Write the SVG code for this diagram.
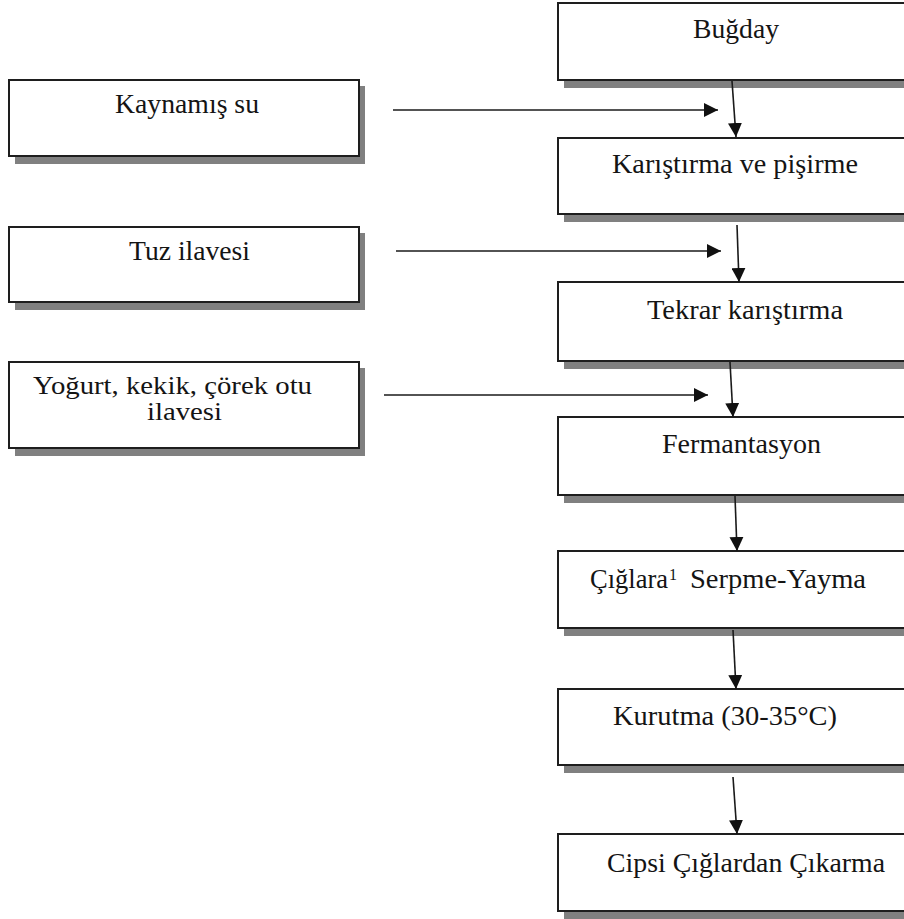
<svg xmlns="http://www.w3.org/2000/svg" width="904" height="919" viewBox="0 0 904 919">
  <style>
    .shadow { fill: #808080; }
    .box { fill: #ffffff; stroke: #1e1e1e; stroke-width: 2; }
    .lbl { font-family: "Liberation Serif", "Times New Roman", serif; font-size: 27px; fill: #141414; }
    .lbl2 { font-family: "Liberation Serif", "Times New Roman", serif; font-size: 25px; fill: #141414; }
    .sup { font-family: "Liberation Serif", "Times New Roman", serif; font-size: 16px; fill: #141414; }
    .conn { stroke: #1a1a1a; stroke-width: 1.6; fill: none; }
  </style>
  <defs>
    <marker id="arrow" viewBox="0 0 14 14" refX="14" refY="7" markerWidth="14" markerHeight="14" markerUnits="userSpaceOnUse" orient="auto">
      <path d="M0,0 L14,7 L0,14 Z" fill="#111"/>
    </marker>
  </defs>
  <rect width="904" height="919" fill="#ffffff"/>

  <!-- left input boxes -->
  <g id="kaynamis-su">
    <rect class="shadow" x="15" y="86" width="350" height="78"/>
    <rect class="box" x="9" y="80" width="350" height="76"/>
    <text class="lbl" x="115" y="113" textLength="144" lengthAdjust="spacingAndGlyphs">Kaynamış su</text>
  </g>
  <g id="tuz-ilavesi">
    <rect class="shadow" x="15" y="233" width="350" height="77"/>
    <rect class="box" x="9" y="227" width="350" height="75"/>
    <text class="lbl" x="129" y="260" textLength="121" lengthAdjust="spacingAndGlyphs">Tuz ilavesi</text>
  </g>
  <g id="yogurt-ilavesi">
    <rect class="shadow" x="15" y="368" width="350" height="88"/>
    <rect class="box" x="9" y="362" width="350" height="86"/>
    <text class="lbl2"><tspan x="33" y="394" textLength="279" lengthAdjust="spacingAndGlyphs">Yoğurt, kekik, çörek otu</tspan><tspan x="147" y="420" textLength="75" lengthAdjust="spacingAndGlyphs">ilavesi</tspan></text>
  </g>

  <!-- main process column -->
  <g id="bugday">
    <rect class="shadow" x="564" y="9" width="360" height="79"/>
    <rect class="box" x="558" y="3" width="360" height="77"/>
    <text class="lbl" x="693" y="38" textLength="86" lengthAdjust="spacingAndGlyphs">Buğday</text>
  </g>
  <g id="karistirma-pisirme">
    <rect class="shadow" x="564" y="144" width="360" height="78"/>
    <rect class="box" x="558" y="138" width="360" height="76"/>
    <text class="lbl" x="612" y="173" textLength="246" lengthAdjust="spacingAndGlyphs">Karıştırma ve pişirme</text>
  </g>
  <g id="tekrar-karistirma">
    <rect class="shadow" x="564" y="288" width="360" height="81"/>
    <rect class="box" x="558" y="282" width="360" height="79"/>
    <text class="lbl" x="647" y="319" textLength="196" lengthAdjust="spacingAndGlyphs">Tekrar karıştırma</text>
  </g>
  <g id="fermantasyon">
    <rect class="shadow" x="564" y="423" width="360" height="80"/>
    <rect class="box" x="558" y="417" width="360" height="78"/>
    <text class="lbl" x="662" y="453" textLength="159" lengthAdjust="spacingAndGlyphs">Fermantasyon</text>
  </g>
  <g id="ciglara-serpme">
    <rect class="shadow" x="564" y="557" width="360" height="79"/>
    <rect class="box" x="558" y="551" width="360" height="77"/>
    <text class="lbl" x="590" y="588" textLength="78" lengthAdjust="spacingAndGlyphs">Çığlara</text>
    <text class="sup" x="669" y="580">1</text>
    <text class="lbl" x="690" y="588" textLength="176" lengthAdjust="spacingAndGlyphs">Serpme-Yayma</text>
  </g>
  <g id="kurutma">
    <rect class="shadow" x="564" y="695" width="360" height="78"/>
    <rect class="box" x="558" y="689" width="360" height="76"/>
    <text class="lbl" x="613" y="725" textLength="224" lengthAdjust="spacingAndGlyphs">Kurutma (30-35°C)</text>
  </g>
  <g id="cipsi-cikarma">
    <rect class="shadow" x="564" y="840" width="360" height="79"/>
    <rect class="box" x="558" y="834" width="360" height="77"/>
    <text class="lbl" x="607" y="872" textLength="278" lengthAdjust="spacingAndGlyphs">Cipsi Çığlardan Çıkarma</text>
  </g>

  <!-- connectors -->
  <g id="connectors">
    <line class="conn" x1="393" y1="110" x2="718" y2="110" marker-end="url(#arrow)"/>
    <line class="conn" x1="396" y1="251" x2="721" y2="251" marker-end="url(#arrow)"/>
    <line class="conn" x1="384" y1="395" x2="708" y2="395" marker-end="url(#arrow)"/>

    <line class="conn" x1="732" y1="81" x2="736" y2="137" marker-end="url(#arrow)"/>
    <line class="conn" x1="737" y1="225" x2="739" y2="282" marker-end="url(#arrow)"/>
    <line class="conn" x1="730" y1="362" x2="733" y2="417" marker-end="url(#arrow)"/>
    <line class="conn" x1="735" y1="496" x2="737" y2="551" marker-end="url(#arrow)"/>
    <line class="conn" x1="733" y1="630" x2="736" y2="689" marker-end="url(#arrow)"/>
    <line class="conn" x1="733" y1="777" x2="737" y2="834" marker-end="url(#arrow)"/>
  </g>
</svg>
